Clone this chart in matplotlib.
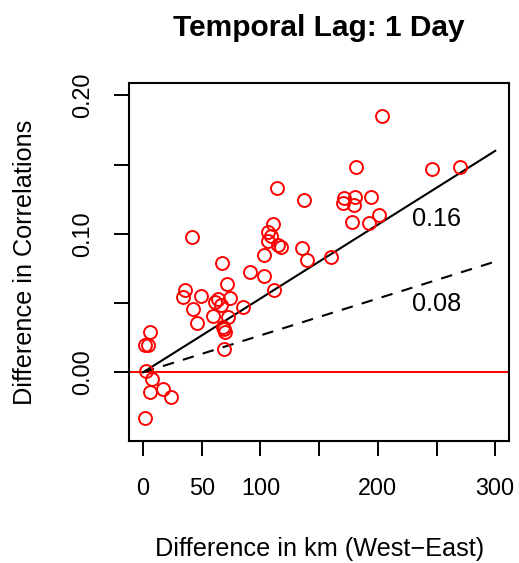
import matplotlib
matplotlib.use("Agg")
import matplotlib.pyplot as plt
import numpy as np

plt.rcParams["font.family"] = ["Liberation Sans", "DejaVu Sans"]

# distance difference (km, West-East) vs difference in correlations
dist_km = [1.5, 2.9, 8.0, 6.3, 16.6, 24.2, 1.5, 4.3, 6.3,
           41.3, 35.6, 34.1, 49.0, 42.7, 45.6, 59.7, 61.2, 64.0, 66.0,
           74.0, 72.5, 71.7, 66.9, 67.7, 68.8, 69.7, 68.9, 84.8, 91.5,
           103.2, 103.2, 111.5, 106.7, 108.7, 106.7, 110.9, 115.2, 117.2,
           114.3, 135.2, 137.4, 139.4, 160.2, 171.2, 180.6, 170.4, 179.8,
           194.0, 201.1, 178.1, 192.6, 181.2, 203.4, 246.3, 270.2]
corr_diff = [-0.033, 0.001, -0.005, -0.014, -0.012, -0.018, 0.020, 0.020, 0.029,
             0.0975, 0.0595, 0.0546, 0.0554, 0.0455, 0.0354, 0.0409, 0.0510, 0.0527, 0.0486,
             0.0539, 0.0402, 0.0638, 0.0792, 0.0330, 0.0313, 0.0293, 0.0170, 0.0470, 0.0725,
             0.0696, 0.0848, 0.0595, 0.0949, 0.0985, 0.1016, 0.1072, 0.0920, 0.0908,
             0.1329, 0.0896, 0.1245, 0.0811, 0.0835, 0.1259, 0.1266, 0.1223, 0.1209,
             0.1269, 0.1137, 0.1086, 0.1079, 0.1486, 0.1854, 0.1471, 0.1486]

line_x = [0, 300]
slopes = [0.16, 0.08]
slope_labels = ["0.16", "0.08"]
label_pos = [(250, 0.1105), (250, 0.049)]

xticks = [0, 50, 100, 150, 200, 250, 300]
xticklabels = ["0", "50", "100", "", "200", "", "300"]
yticks = [0.0, 0.05, 0.10, 0.15, 0.20]
yticklabels = ["0.00", "", "0.10", "", "0.20"]

W, H = 519, 563
fig = plt.figure(figsize=(W / 100, H / 100), dpi=100)
ax = fig.add_axes([129 / W, 1 - 440.7 / H, (509.3 - 129) / W, (440.7 - 83.3) / H])

ax.axhline(0, color="red", lw=1.4, zorder=1)
ax.plot(dist_km, corr_diff, "o", mfc="none", mec="red", ms=9.3, mew=1.4, zorder=3)

lx = np.array(line_x, dtype=float)
ax.plot(lx, slopes[0] * lx / 300, color="black", lw=1.5, zorder=2)
ax.plot(lx, slopes[1] * lx / 300, color="black", lw=1.5, dashes=[5.5, 4.5], zorder=2)
for txt, (tx, ty) in zip(slope_labels, label_pos):
    ax.text(tx, ty, txt, fontsize=18.2, ha="center", va="center")

ax.set_xlim(-12, 312)
ax.set_ylim(-0.0494, 0.2088)
ax.set_xticks(xticks)
ax.set_xticklabels(xticklabels)
ax.set_yticks(yticks)
ax.set_yticklabels(yticklabels, rotation=90, va="center")
ax.tick_params(axis="both", length=10.8, width=1.4, labelsize=16.8, direction="out")
ax.tick_params(axis="x", pad=15)
ax.tick_params(axis="y", pad=14)
for s in ax.spines.values():
    s.set_linewidth(1.5)

ax.set_xlabel("Difference in km (West\u2212East)", fontsize=18.2)
ax.xaxis.set_label_coords(0.5, -0.27)
ax.set_ylabel("Difference in Correlations", fontsize=18.2)
ax.yaxis.set_label_coords(-0.242, 0.5)
ax.set_title("Temporal Lag: 1 Day", fontsize=21.5, fontweight="bold", pad=34)

fig.savefig("out.png", dpi=100)
